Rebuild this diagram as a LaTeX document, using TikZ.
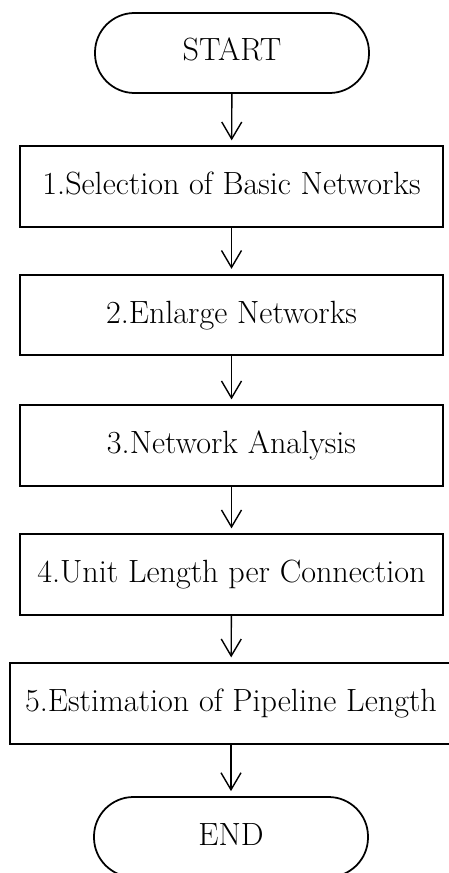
\documentclass[tikz,border=0pt]{standalone}
\usepackage{fontspec}
\usepackage{tikz}
\usetikzlibrary{arrows.meta,positioning}
\tikzset{
  terminal/.style={rectangle,draw,rounded corners=7.9mm,minimum width=54.8mm,minimum height=16mm,line width=1pt,inner sep=2pt,text height=4.6mm,text depth=1.4mm},
  process/.style={rectangle,draw,minimum width=84.6mm,minimum height=16.1mm,line width=1pt,inner sep=2pt,text height=4.6mm,text depth=1.4mm}
}

\begin{document}
\begin{tikzpicture}[
  >={Straight Barb[length=3.4mm,width=4mm]},x=0.2mm,y=-0.2mm,
  font=\fontsize{18.3}{22}\selectfont,
  flow/.style={->,line width=0.8pt,shorten >=1mm}
]
  \useasboundingbox (0,0) rectangle (448,873);

  % --- Terminals and process steps ---
  \node[terminal] (start) at (232, 53)  {START};
  \node[process]  (s1)    at (231.5,186.5) {1.Selection of Basic Networks};
  \node[process]  (s2)    at (231.5,315)   {2.Enlarge Networks};
  \node[process]  (s3)    at (231.5,445.5) {3.Network Analysis};
  \node[process]  (s4)    at (231.5,574.5) {4.Unit Length per Connection};
  \node[process,minimum width=88.4mm] (s5) at (231,703.5) {5.Estimation of Pipeline Length};
  \node[terminal] (end)   at (231, 837) {END};

  % --- Flow arrows ---
  \draw[flow] (start) -- (s1);
  \draw[flow] (s1) -- (s2);
  \draw[flow] (s2) -- (s3);
  \draw[flow] (s3) -- (s4);
  \draw[flow] (s4) -- (s5);
  \draw[flow] (s5) -- (end);
\end{tikzpicture}
\end{document}
